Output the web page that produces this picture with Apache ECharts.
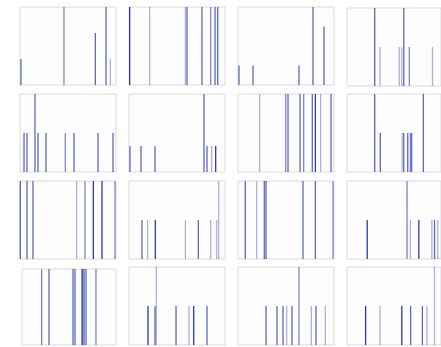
<!DOCTYPE html>
<html>
<head>
<meta charset="utf-8">
<script src="https://cdn.jsdelivr.net/npm/echarts@6/dist/echarts.min.js"></script>
<style>html,body{margin:0;padding:0;background:#fff;}#c{width:441px;height:347px;}</style>
</head>
<body>
<div id="c"></div>
<script>
// Event positions (0-100 across each panel), row-major 4x4 panels
const positions = [
  [1.0, 45.8, 78.5, 89.6, 94.1],
  [0.7, 21.5, 58.7, 60.4, 76.0, 85.1, 89.6, 92.4],
  [1.0, 15.6, 63.5, 78.1, 89.6],
  [29.5, 35.1, 55.6, 58.3, 60.4, 66.3, 91.0],
  [4.2, 7.3, 15.6, 18.75, 27.1, 47.2, 56.25, 81.25, 96.9],
  [1.0, 12.5, 27.1, 78.1, 81.25, 86.1, 90.3],
  [22.6, 49.7, 52.1, 64.6, 68.4, 77.4, 80.6, 86.1, 96.9],
  [29.5, 35.4, 58.7, 60.4, 64.6, 67.4, 68.75, 81.25],
  [0.3, 7.3, 13.5, 59.0, 67.7, 76.4, 85.4, 99.0],
  [13.5, 19.4, 27.4, 58.7, 72.2, 85.1, 91.3, 93.4],
  [7.6, 19.4, 27.4, 29.2, 67.7, 80.6, 99.0],
  [21.5, 63.9, 67.4, 76.4, 90.3, 93.1, 96.5],
  [20.9, 28.7, 54.3, 56.4, 63.5, 64.5, 66.0, 68.1, 78.7],
  [19.8, 27.1, 28.5, 49.0, 62.5, 67.4, 81.25],
  [29.2, 40.6, 46.9, 50.7, 56.25, 63.5, 76.4, 81.25, 91.0],
  [19.8, 35.1, 58.3, 67.7, 80.2, 85.1, 93.1]
];
// Counts per event
const counts = [
  [1, 3, 2, 3, 1],
  [1, 1, 1, 1, 1, 1, 1, 1],
  [1, 1, 1, 4, 3],
  [2, 1, 1, 1, 2, 1, 1],
  [1, 1, 2, 1, 1, 1, 1, 1, 1],
  [1, 1, 1, 3, 1, 1, 1],
  [1, 1, 1, 1, 1, 1, 1, 1, 1],
  [2, 1, 1, 1, 1, 1, 1, 2],
  [1, 1, 1, 1, 1, 1, 1, 1],
  [1, 1, 1, 1, 1, 1, 1, 2],
  [1, 1, 1, 1, 1, 1, 1],
  [1, 2, 1, 1, 1, 1, 1],
  [1, 1, 1, 1, 1, 1, 1, 1, 1],
  [1, 1, 2, 1, 1, 1, 1],
  [1, 1, 1, 1, 1, 2, 1, 1, 1],
  [1, 1, 1, 1, 1, 1, 2]
];
// Event weight (1 weak .. 4 strong)
const weights = [
  [3, 2, 3, 3, 1],
  [4, 1, 1, 3, 3, 2, 3, 3],
  [3, 3, 3, 3, 3],
  [3, 1, 1, 1, 3, 2, 1],
  [3, 3, 3, 3, 3, 2, 3, 3, 3],
  [3, 3, 3, 3, 3, 1, 4],
  [1, 2, 3, 3, 2, 3, 4, 1, 3],
  [3, 3, 1, 3, 3, 2, 3, 3],
  [3, 3, 3, 1, 2, 4, 4, 2],
  [3, 1, 4, 1, 3, 1, 1, 1],
  [3, 1, 3, 3, 3, 3, 2],
  [4, 2, 1, 4, 1, 3, 1],
  [2, 3, 3, 3, 2, 3, 3, 3, 2],
  [4, 3, 1, 3, 1, 4, 3],
  [3, 3, 3, 1, 3, 2, 1, 3, 1],
  [4, 1, 4, 3, 3, 1, 1]
];

const opacityFor = {1: 0.35, 2: 0.55, 3: 0.7, 4: 0.92};
const colLeft = [20, 129, 238, 347];
const rowTop = [7, 94, 181, 267];

const grids = [], xAxes = [], yAxes = [], series = [];
for (let i = 0; i < 16; i++) {
  const r = Math.floor(i / 4), c = i % 4;
  let left = colLeft[c], top = rowTop[r], w = 96, h = 78;
  if (r === 0 && c === 3) top = 8;
  if (r === 3 && c === 0) { left = 22; top = 269; w = 94; h = 76; }
  grids.push({left: left, top: top, width: w, height: h, show: true,
    backgroundColor: '#fdfdfd', borderColor: '#dadada', borderWidth: 1});
  xAxes.push({gridIndex: i, type: 'value', min: 0, max: 100, show: false});
  yAxes.push({gridIndex: i, type: 'value', min: 0, max: Math.max(...counts[i]), show: false});
  series.push({
    type: 'bar', xAxisIndex: i, yAxisIndex: i, barWidth: 1.3, silent: true,
    itemStyle: {color: 'rgb(24,40,165)'},
    data: positions[i].map((x, k) => ({value: [x, counts[i][k]],
      itemStyle: {opacity: opacityFor[weights[i][k]]}}))
  });
}

const chart = echarts.init(document.getElementById('c'), null, {renderer: 'canvas'});
chart.setOption({animation: false, grid: grids, xAxis: xAxes, yAxis: yAxes, series: series});
</script>
</body>
</html>
